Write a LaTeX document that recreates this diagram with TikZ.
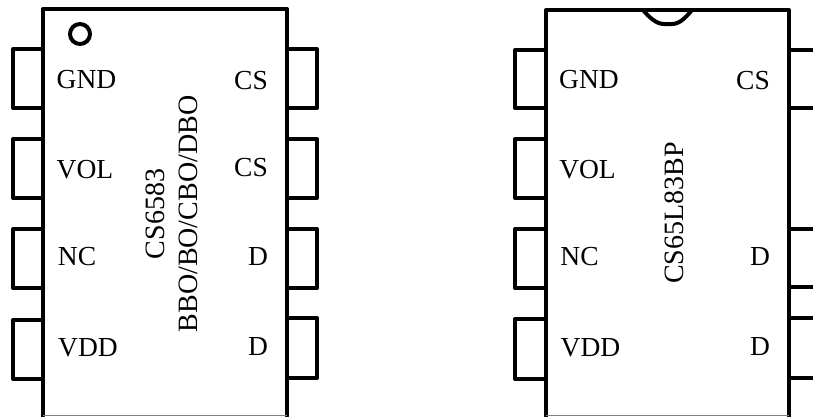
\documentclass[tikz,border=0pt]{standalone}
\usepackage{fontspec}
\setmainfont{Liberation Serif}
\tikzset{
  x=1pt,y=-1pt,
  outline/.style={line width=4pt,black,line join=round,line cap=round},
  pinline/.style={line width=4pt,black,line join=round},
  baseline edge/.style={line width=1pt,gray},
  lab/.style={inner sep=0pt,font=\fontsize{27.5}{27.5}\selectfont},
  mark lab/.style={inner sep=0pt,rotate=90,font=\fontsize{28}{28}\selectfont}
}
\begin{document}
\begin{tikzpicture}
\useasboundingbox (0,0) rectangle (813,416);
% left package
\draw[outline] (42.5,416) -- (42.5,9) -- (287,9) -- (287,416);
\draw[baseline edge] (42.5,415.5) -- (287,415.5);
\draw[pinline] (42.5,49) -- (13,49) -- (13,108) -- (42.5,108);
\draw[pinline] (42.5,139) -- (13,139) -- (13,198) -- (42.5,198);
\draw[pinline] (42.5,229) -- (13,229) -- (13,288) -- (42.5,288);
\draw[pinline] (42.5,320) -- (13,320) -- (13,379) -- (42.5,379);
\draw[pinline] (287,49) -- (317,49) -- (317,108) -- (287,108);
\draw[pinline] (287,139) -- (317,139) -- (317,198) -- (287,198);
\draw[pinline] (287,229) -- (317,229) -- (317,288) -- (287,288);
\draw[pinline] (287,318) -- (317,318) -- (317,378) -- (287,378);
\draw[line width=4pt] (80,34) circle (10);
\node[lab] (g1) at (86.5,80) {GND};
\node[lab] (v1) at (85,170) {VOL};
\node[lab] (n1) at (77,257) {NC};
\node[lab] (d1) at (88,348) {VDD};
\node[lab] (c1) at (251,81) {CS};
\node[lab] (c2) at (251,168) {CS};
\node[lab] (s1) at (258,257) {D};
\node[lab] (s2) at (258,347) {D};
\node[mark lab] (m1) at (155,214) {CS6583};
\node[mark lab] (m2) at (188,214) {BBO/BO/CBO/DBO};
% right package
\draw[outline] (546,416) -- (546,10) -- (789,10) -- (789,416);
\draw[outline] (643,10) .. controls (649,17) and (656,24) .. (664,24) -- (672,24) .. controls (680,24) and (686,17) .. (692,10);
\draw[baseline edge] (546,415.5) -- (789,415.5);
\draw[pinline] (546,50) -- (515,50) -- (515,108) -- (546,108);
\draw[pinline] (546,139) -- (515,139) -- (515,198) -- (546,198);
\draw[pinline] (546,229) -- (515,229) -- (515,288) -- (546,288);
\draw[pinline] (546,319) -- (515,319) -- (515,379) -- (546,379);
\draw[pinline] (789,50) -- (813,50);
\draw[pinline] (789,108) -- (813,108);
\draw[pinline] (789,229) -- (813,229);
\draw[pinline] (789,287) -- (813,287);
\draw[pinline] (789,318) -- (813,318);
\draw[pinline] (789,378) -- (813,378);
\node[lab] (g2) at (589,80) {GND};
\node[lab] (v2) at (587.5,170) {VOL};
\node[lab] (n2) at (579.5,257) {NC};
\node[lab] (d2) at (590.5,348) {VDD};
\node[lab] (c3) at (753,81) {CS};
\node[lab] (s3) at (760,257) {D};
\node[lab] (s4) at (760,347) {D};
\node[mark lab] (m3) at (674,213) {CS65L83BP};
\end{tikzpicture}
\end{document}
